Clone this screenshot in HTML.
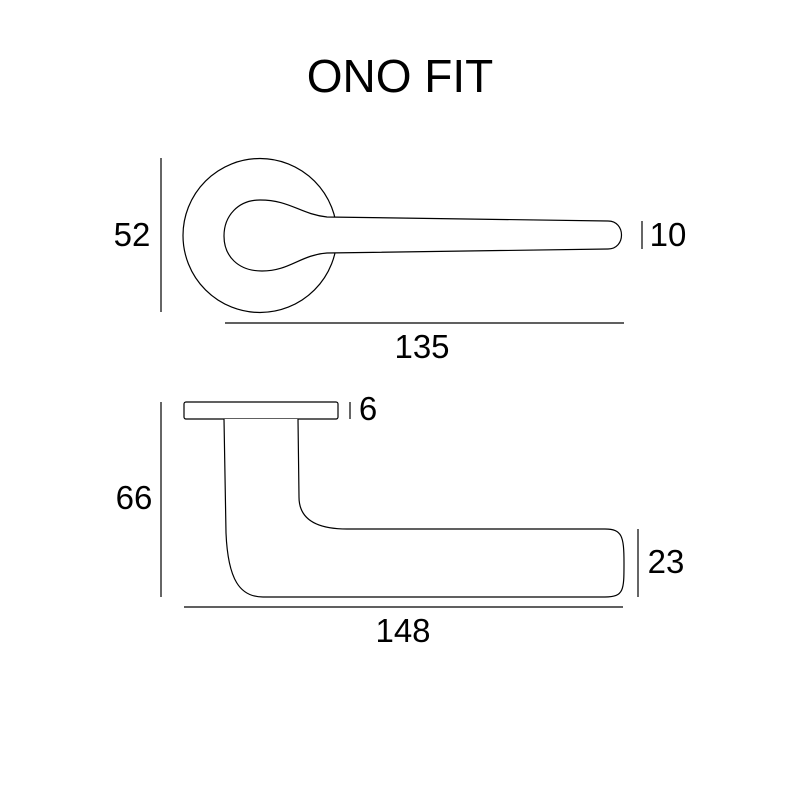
<!DOCTYPE html>
<html><head><meta charset="utf-8"><style>
html,body{margin:0;padding:0;background:#fff;}
svg{display:block}
text{font-family:"Liberation Sans",Arial,sans-serif;fill:#000}
</style></head><body>
<svg width="800" height="800" viewBox="0 0 800 800" xmlns="http://www.w3.org/2000/svg">
<rect width="800" height="800" fill="#fff"/>
<text x="400" y="92" font-size="46" text-anchor="middle">ONO FIT</text>
<g fill="none" stroke="#000" stroke-width="1.2">
  <line x1="161" y1="158" x2="161" y2="312"/>
  <circle cx="260" cy="235.5" r="77" fill="#fff"/>
  <path d="M327 217 C300 214 290 200 260 200 C238 200 224 216 224 236 C224 256 238 271 262 271 C290 271 300 255 327 253 L608 249 C626 249 626 221 608 221 Z" fill="#fff"/>
  <line x1="225" y1="323" x2="624" y2="323"/>
  <line x1="642" y1="221" x2="642" y2="249"/>

  <line x1="161" y1="402" x2="161" y2="597"/>
  <rect x="184" y="402" width="154" height="17" rx="2" fill="#fff"/>
  <line x1="350" y1="402" x2="350" y2="419"/>
  <path d="M224 419 L226 533 C228 580 240 597 263 597 L605 597 C624 597 624 590 624 563 C624 536 622 529 605 529 L347 529 C310 529 299 515 299 497 L298 419" fill="#fff"/>
  <line x1="638" y1="529" x2="638" y2="597"/>
  <line x1="184" y1="607" x2="623" y2="607"/>
</g>
<text x="132" y="246" font-size="33" text-anchor="middle">52</text>
<text x="668" y="246" font-size="33" text-anchor="middle">10</text>
<text x="422" y="358" font-size="33" text-anchor="middle">135</text>
<text x="368" y="420" font-size="33" text-anchor="middle">6</text>
<text x="134" y="509" font-size="33" text-anchor="middle">66</text>
<text x="666" y="573" font-size="33" text-anchor="middle">23</text>
<text x="403" y="642" font-size="33" text-anchor="middle">148</text>
</svg>
</body></html>
